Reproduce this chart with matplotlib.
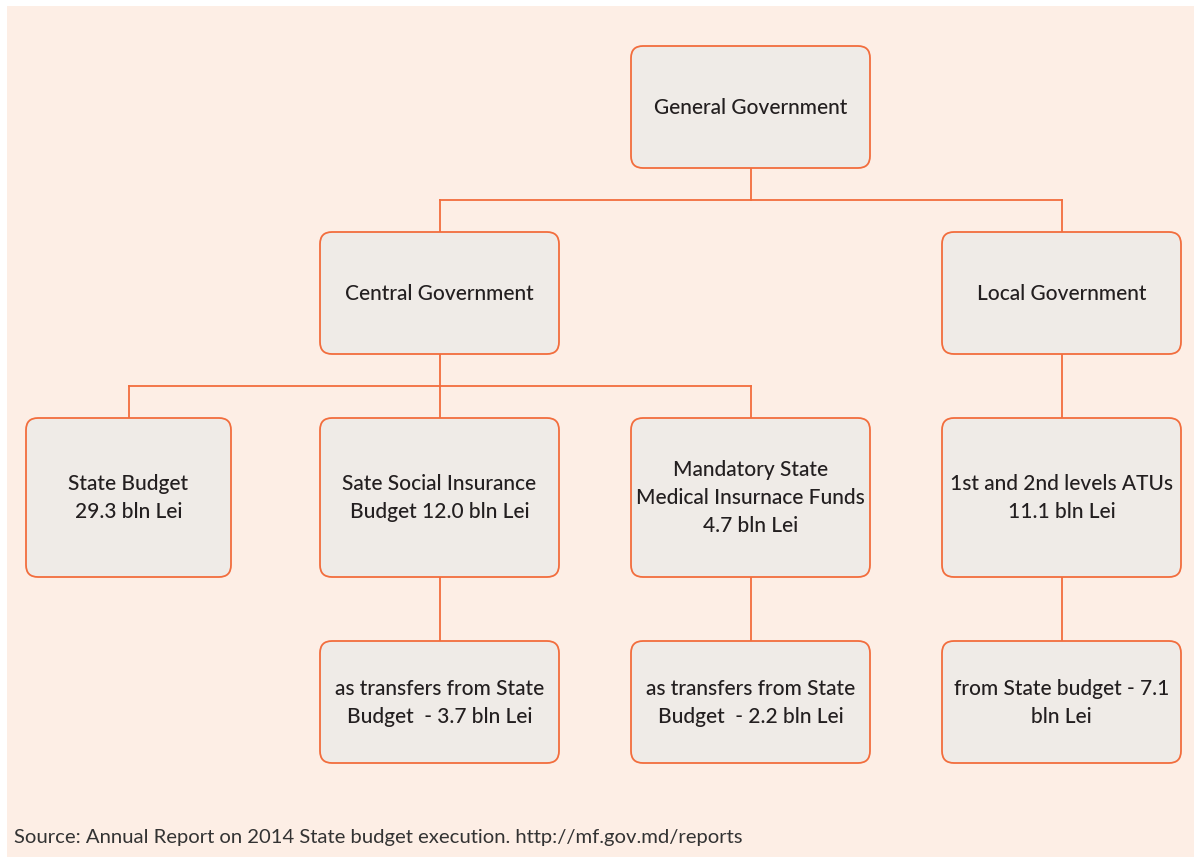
import matplotlib.pyplot as plt
from matplotlib.patches import FancyBboxPatch, Rectangle

# box labels
labels = [
    "General Government",
    "Central Government",
    "Local Government",
    "State Budget\n29.3 bln Lei",
    "Sate Social Insurance\nBudget 12.0 bln Lei",
    "Mandatory State\nMedical Insurnace Funds\n4.7 bln Lei",
    "1st and 2nd levels ATUs\n11.1 bln Lei",
    "as transfers from State\nBudget  - 3.7 bln Lei",
    "as transfers from State\nBudget  - 2.2 bln Lei",
    "from State budget - 7.1\nbln Lei",
]
# box extents in pixel coords: left, right, top, bottom
box_x0 = [631, 320, 942, 26, 320, 631, 942, 320, 631, 942]
box_x1 = [870, 559, 1181, 231, 559, 870, 1181, 559, 870, 1181]
box_y0 = [47, 233, 233, 419, 419, 419, 419, 642, 642, 642]
box_y1 = [169, 355, 355, 578, 578, 578, 578, 764, 764, 764]
# parent -> children
links = {0: [1, 2], 1: [3, 4, 5], 2: [6], 4: [7], 5: [8], 6: [9]}

source = "Source: Annual Report on 2014 State budget execution. http://mf.gov.md/reports"

W, H = 1194, 862
orange = "#F26D3D"
fill = "#EFEBE7"
bg = "#FDEEE5"

fig = plt.figure(figsize=(W / 100, H / 100), dpi=100)
fig.patch.set_facecolor("white")
ax = fig.add_axes([0, 0, 1, 1])
ax.set_xlim(0, W)
ax.set_ylim(H, 0)
ax.axis("off")

ax.add_patch(Rectangle((7, 7), W - 7, 851, facecolor=bg, edgecolor="none", zorder=0))

def cx(i):
    return (box_x0[i] + box_x1[i]) / 2

# connectors
for p, kids in links.items():
    if len(kids) == 1:
        ax.plot([cx(p), cx(p)], [box_y1[p], box_y0[kids[0]]], color=orange, lw=1.3, zorder=1)
        continue
    ymid = (box_y1[p] + box_y0[kids[0]]) / 2
    ax.plot([cx(p), cx(p)], [box_y1[p], ymid], color=orange, lw=1.3, zorder=1)
    ax.plot([min(cx(k) for k in kids), max(cx(k) for k in kids)], [ymid, ymid],
            color=orange, lw=1.3, zorder=1)
    for k in kids:
        ax.plot([cx(k), cx(k)], [ymid, box_y0[k]], color=orange, lw=1.3, zorder=1)

# boxes
for i, lab in enumerate(labels):
    w = box_x1[i] - box_x0[i]
    h = box_y1[i] - box_y0[i]
    ax.add_patch(FancyBboxPatch((box_x0[i], box_y0[i]), w, h,
                                boxstyle="round,pad=0,rounding_size=12",
                                facecolor=fill, edgecolor=orange, lw=1.3, zorder=2))
    ax.text(cx(i), (box_y0[i] + box_y1[i]) / 2, lab, ha="center", va="center",
            fontsize=15, family="Lato", fontweight="medium", color="#231F20",
            linespacing=1.5, zorder=3)

ax.text(14, 838, source, ha="left", va="center", fontsize=14.6, family="Lato", color="#333333")

fig.savefig("out.png", dpi=100, facecolor="white")
